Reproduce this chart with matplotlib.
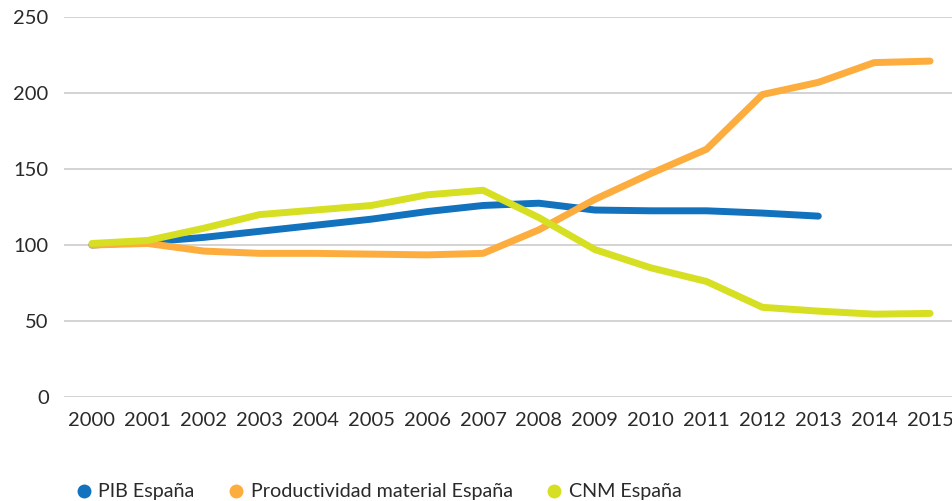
import matplotlib.pyplot as plt
from matplotlib.lines import Line2D

plt.rcParams['font.family'] = ['Lato', 'DejaVu Sans']

years = ['2000', '2001', '2002', '2003', '2004', '2005', '2006', '2007',
         '2008', '2009', '2010', '2011', '2012', '2013', '2014', '2015']
pib = [100, 102, 105, 109, 113, 117, 122, 126, 127.5, 123, 122.5, 122.5, 121, 119]
productividad = [100, 101, 96, 94.5, 94.5, 94, 93.5, 94.5, 110, 130, 147, 163,
                 199, 207, 220, 221]
cnm = [101, 103, 111, 120, 123, 126, 133, 136, 118, 97, 85, 76, 59, 56.5, 54.5, 55]

labels = ['PIB España', 'Productividad material España', 'CNM España']
colors = ['#1272bd', '#fcad3e', '#d6df22']

fig = plt.figure(figsize=(9.52, 5.01), dpi=100)
ax = fig.add_axes([64 / 952, (501 - 397) / 501, 894 / 952, 380 / 501])

x = list(range(len(years)))
ax.plot(x[:len(pib)], pib, color=colors[0], lw=5, solid_capstyle='round', solid_joinstyle='round', zorder=3)
ax.plot(x, productividad, color=colors[1], lw=5, solid_capstyle='round', solid_joinstyle='round', zorder=3)
ax.plot(x, cnm, color=colors[2], lw=5, solid_capstyle='round', solid_joinstyle='round', zorder=3)

ax.set_xlim(-0.5, len(years) - 0.5)
ax.set_ylim(0, 250)
ax.set_yticks([0, 50, 100, 150, 200, 250])
ax.set_xticks(x)
ax.set_xticklabels(years)
ax.grid(axis='y', color='#d0d0d0', lw=1.3)
ax.set_axisbelow(True)
for s in ax.spines.values():
    s.set_visible(False)
ax.tick_params(length=0, labelsize=14.5, colors='#2a2a2a')
ax.tick_params(axis='y', pad=11)
ax.tick_params(axis='x', pad=11)

handles = [Line2D([], [], marker='o', ls='', color=c, markersize=9) for c in colors]
fig.legend(handles, labels, loc='center left', bbox_to_anchor=(56 / 952, 1 - 492 / 501),
           ncol=3, frameon=False, fontsize=14.2, handletextpad=0.25, columnspacing=1.6,
           handlelength=1.0, labelcolor='#2a2a2a')

fig.savefig('out.png', dpi=100)
